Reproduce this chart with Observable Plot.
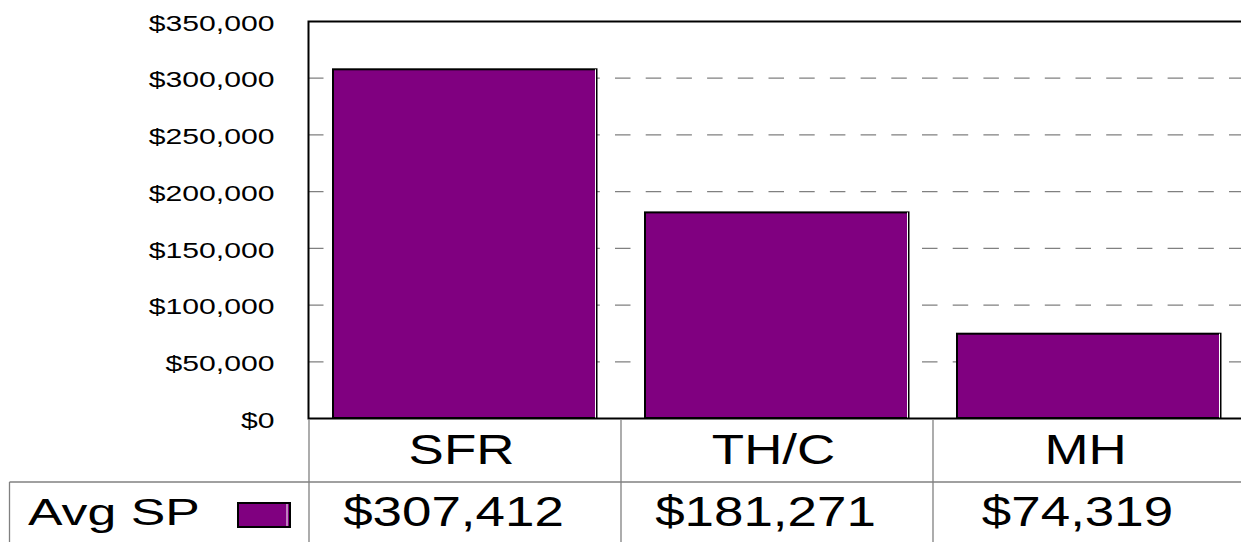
<!DOCTYPE html>
<html><head><meta charset="utf-8">
<script src="https://cdn.jsdelivr.net/npm/d3@7"></script>
<script src="https://cdn.jsdelivr.net/npm/@observablehq/plot@0.6"></script>
<style>
html,body{margin:0;padding:0;background:#fff;overflow:hidden;width:1241px;height:542px}
#chart{width:1246px}
#chart svg{display:block;max-width:none !important;width:1246px !important;height:542px !important}
</style></head><body><div id="chart"></div>
<script>
const categories = ["SFR", "TH/C", "MH"];
const avgSP = [307412, 181271, 74319];
const seriesName = "Avg SP";
const yTicks = [0, 50000, 100000, 150000, 200000, 250000, 300000, 350000];
const gridValues = [50000, 100000, 150000, 200000, 250000, 300000];

const data = categories.map((c, i) => ({cat: c, value: avgSP[i]}));
const purple = "#800080";
const font = "'Liberation Sans', Arial, sans-serif";
const money = d3.format("$,");

const plot = Plot.plot({
  width: 1246, height: 542,
  marginTop: 21, marginBottom: 124, marginLeft: 308, marginRight: 0,
  style: {fontFamily: font, color: "black", background: "white", overflow: "visible"},
  x: {domain: categories, padding: 0, axis: null},
  y: {domain: [0, 350000], axis: null},
  marks: [
    Plot.ruleY(gridValues, {stroke: "#808080", strokeWidth: 1.3, strokeDasharray: "15.5,15.2"}),
    Plot.barY(data, {x: "cat", y: "value", fill: purple, stroke: "black", strokeWidth: 2, insetLeft: 24, insetRight: 24.5}),
    Plot.ruleX(data, {x: "cat", y1: d => 0, y2: "value", stroke: "white", strokeWidth: 1, dx: 130}),
    Plot.frame({stroke: "black", strokeWidth: 2}),
    Plot.axisY(yTicks, {tickFormat: money, tickSize: 0, tickPadding: 34, fontSize: 22.5, label: null, dy: 2}),
    Plot.text(data, {x: "cat", text: "cat", frameAnchor: "bottom", dy: 32, dx: -4, fontSize: 43, lineAnchor: "middle"}),
    Plot.text(data, {x: "cat", text: d => money(d.value), frameAnchor: "bottom", dy: 94, dx: -12, fontSize: 42, lineAnchor: "middle"})
  ]
});

document.getElementById("chart").append(plot);
const svg = d3.select(plot);

// widen glyphs horizontally about each text's anchor point
function stretch(sel, f) {
  sel.each(function () {
    const x = +(this.getAttribute("x") || 0);
    const T = this.getAttribute("transform") || "";
    this.setAttribute("transform", `${T} translate(${x},0) scale(${f},1) translate(${-x},0)`);
  });
}
stretch(svg.selectAll('g[font-size="22.5"] text'), 1.34);
stretch(svg.selectAll('g[font-size="43"] text'), 1.23);
stretch(svg.selectAll('g[font-size="42"] text'), 1.26);

// table grid
const xs = plot.scale("x");
const ys = plot.scale("y");
const y0 = ys.apply(0);
const H = 542;
const rowSplit = 482;
const g = svg.append("g").attr("stroke", "#808080").attr("stroke-width", 1.3);
categories.forEach(c => {
  const x = xs.apply(c);
  g.append("line").attr("x1", x).attr("x2", x).attr("y1", y0 + 1).attr("y2", H);
});
g.append("line").attr("x1", 9.5).attr("x2", 1246).attr("y1", rowSplit).attr("y2", rowSplit);
g.append("line").attr("x1", 9.5).attr("x2", 9.5).attr("y1", rowSplit).attr("y2", H);

// legend cell
const lt = svg.append("text")
  .attr("x", 28).attr("y", (rowSplit + H) / 2).attr("dy", "0.35em")
  .attr("text-anchor", "start")
  .attr("font-size", 37).attr("font-family", font).attr("fill", "black")
  .text(seriesName);
stretch(lt, 1.4);
svg.append("rect").attr("x", 238).attr("y", 503).attr("width", 52).attr("height", 24)
  .attr("fill", purple).attr("stroke", "black").attr("stroke-width", 2);
svg.append("line").attr("x1", 287).attr("x2", 287).attr("y1", 504).attr("y2", 526)
  .attr("stroke", "white").attr("stroke-width", 1);
</script></body></html>
